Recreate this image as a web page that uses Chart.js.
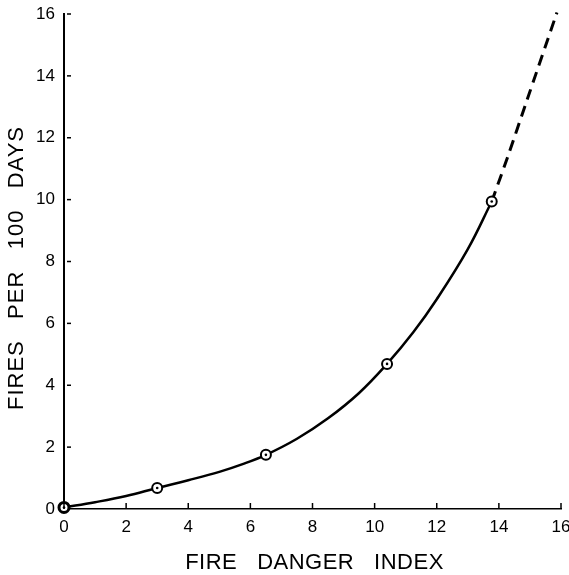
<!DOCTYPE html>
<html><head><meta charset="utf-8">
<script src="https://cdn.jsdelivr.net/npm/chart.js@4.4.1/dist/chart.umd.min.js"></script>
<style>html,body{margin:0;padding:0;background:#fff;}#wrap{width:569px;height:575px;}</style>
</head><body><div id="wrap"><canvas id="c" width="569" height="575"></canvas></div>
<script>
const curveX = [0, 1, 2, 3, 4, 5, 5.75, 6.5, 7.5, 8.5, 9.5, 10.4, 11.25, 12, 13, 13.77];
const curveY = [0.05, 0.22, 0.42, 0.68, 0.93, 1.2, 1.45, 1.75, 2.27, 2.93, 3.75, 4.69, 5.72, 6.78, 8.4, 9.94];
const extX = [13.77, 14.29, 14.9, 15.87];
const extY = [9.94, 11.4, 13.2, 16.05];
const obsX = [0, 3, 6.5, 10.4, 13.77];
const obsY = [0.05, 0.68, 1.75, 4.69, 9.94];
const tickValues = [0, 2, 4, 6, 8, 10, 12, 14, 16];
const xTitle = "FIRE   DANGER   INDEX";
const yTitle = "FIRES   PER   100   DAYS";

const pts = (xs, ys) => xs.map((x, i) => ({x: x, y: ys[i]}));

const decor = {
  id: 'decor',
  afterDraw(chart) {
    const ctx = chart.ctx, a = chart.chartArea;
    const xs = chart.scales.x, ys = chart.scales.y;
    ctx.save();
    ctx.strokeStyle = '#000';
    ctx.lineWidth = 1.5;
    tickValues.forEach(v => {
      const px = xs.getPixelForValue(v);
      ctx.beginPath(); ctx.moveTo(px, a.bottom); ctx.lineTo(px, a.bottom - 6); ctx.stroke();
      const py = ys.getPixelForValue(v);
      if (v > 0) { ctx.beginPath(); ctx.moveTo(a.left + 3, py); ctx.lineTo(a.left + 7, py); ctx.stroke(); }
    });
    ctx.fillStyle = '#000';
    ctx.font = '22px "Liberation Sans", Arial, sans-serif';
    ctx.letterSpacing = '0.5px';
    ctx.textAlign = 'center';
    ctx.textBaseline = 'middle';
    ctx.fillText(xTitle, (a.left + a.right) / 2 + 2, 563);
    ctx.translate(17, 268);
    ctx.rotate(-Math.PI / 2);
    ctx.letterSpacing = '1px';
    ctx.fillText(yTitle, 0, 0);
    ctx.restore();
  }
};

new Chart(document.getElementById('c'), {
  type: 'scatter',
  data: {
    datasets: [
      {data: pts(curveX, curveY), showLine: true, borderColor: '#000', borderWidth: 2.5, pointRadius: 0, tension: 0.4, clip: false, order: 3},
      {data: pts(extX, extY), showLine: true, borderColor: '#000', borderWidth: 3, borderDash: [11, 7], pointRadius: 0, tension: 0.3, clip: false, order: 3},
      {data: pts(obsX, obsY), showLine: false, pointRadius: 5, pointBorderWidth: [3, 2, 2, 2, 2], pointBackgroundColor: '#fff', pointBorderColor: '#000', clip: false, order: 2},
      {data: pts(obsX, obsY), showLine: false, pointRadius: 1.3, pointBorderWidth: 0, pointBackgroundColor: '#000', clip: false, order: 1}
    ]
  },
  options: {
    responsive: false,
    animation: false,
    events: [],
    layout: {padding: {top: 14, right: 8, left: 0, bottom: 0}},
    plugins: {legend: {display: false}, tooltip: {enabled: false}},
    scales: {
      x: {
        type: 'linear', min: 0, max: 16,
        afterFit(s) { s.height = 66; s.paddingLeft = 0; s.paddingRight = 0; },
        afterBuildTicks(s) { s.ticks = tickValues.map(v => ({value: v})); },
        grid: {display: false, drawTicks: false},
        border: {display: true, color: '#000', width: 1.5},
        ticks: {color: '#000', padding: 8, font: {family: '"Liberation Sans", Arial, sans-serif', size: 17}}
      },
      y: {
        type: 'linear', min: 0, max: 16,
        afterFit(s) { s.width = 64; s.paddingTop = 0; s.paddingBottom = 0; },
        afterBuildTicks(s) { s.ticks = tickValues.map(v => ({value: v})); },
        grid: {display: false, drawTicks: false},
        border: {display: true, color: '#000', width: 2},
        ticks: {color: '#000', padding: 9, font: {family: '"Liberation Sans", Arial, sans-serif', size: 17}}
      }
    }
  },
  plugins: [decor]
});
</script></body></html>
